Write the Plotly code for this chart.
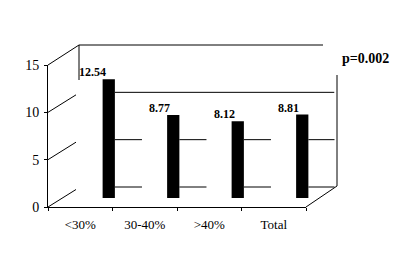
import plotly.graph_objects as go

categories = ["<30%", "30-40%", ">40%", "Total"]
values = [12.54, 8.77, 8.12, 8.81]
value_labels = ["12.54", "8.77", "8.12", "8.81"]
y_ticks = [0, 5, 10, 15]
p_text = "p=0.002"

W, H = 406, 272
def X(px): return px / W
def Y(py): return 1 - py / H

# front plane geometry (pixels)
FX0, FX1 = 40, 298
FY0, FY15 = 199, 57
per = (FY0 - FY15) / 15.0
def fy(v): return FY0 - per * v

# depth offset for bars
BDX = 28.5
BY0 = 190

font = "Liberation Serif"

fig = go.Figure()
# invisible trace to show the front axes
fig.add_trace(go.Scatter(x=categories, y=values, xaxis="x", yaxis="y", mode="markers",
                         marker=dict(opacity=0), hoverinfo="skip"))
fig.add_trace(go.Bar(x=categories, y=values, xaxis="x2", yaxis="y2",
                     width=0.19, marker=dict(color="black", line=dict(width=0)),
                     hoverinfo="skip"))

shapes = []
L = dict(color="black", width=1)
# side wall diagonals
for v in y_ticks:
    if v == 15:
        shapes.append(dict(type="line", xref="paper", yref="paper", x0=X(FX0), y0=Y(fy(v)),
                           x1=X(FX0 + 31), y1=Y(fy(v) - 20), line=L, layer="below"))
    else:
        shapes.append(dict(type="line", xref="paper", yref="paper", x0=X(FX0), y0=Y(fy(v)),
                           x1=X(FX0 + 28), y1=Y(fy(v) - 17.5), line=L, layer="below"))
# floor right diagonal
shapes.append(dict(type="line", xref="paper", yref="paper", x0=X(FX1), y0=Y(FY0),
                   x1=X(FX1 + 31), y1=Y(FY0 - 21), line=L, layer="below"))
# back wall top
shapes.append(dict(type="line", xref="paper", yref="paper", x0=X(FX0 + 31), y0=Y(fy(15) - 20),
                   x1=X(315), y1=Y(fy(15) - 20), line=L, layer="below"))
# back wall left edge (partial)
shapes.append(dict(type="line", xref="paper", yref="paper", x0=X(FX0 + 31), y0=Y(fy(15) - 20),
                   x1=X(FX0 + 31), y1=Y(72), line=L, layer="below"))
# back wall right edge
shapes.append(dict(type="line", xref="paper", yref="paper", x0=X(FX1 + 31), y0=Y(67),
                   x1=X(FX1 + 31), y1=Y(FY0 - 21), line=L, layer="below"))
# back gridline at 10
shapes.append(dict(type="line", xref="x2", yref="paper", x0=0.095, y0=Y(fy(10) - 20),
                   x1=3.5, y1=Y(fy(10) - 20), line=L, layer="below"))
# back gridline segments at 5 and 0
for v in [5, 0]:
    for i in range(len(categories)):
        shapes.append(dict(type="line", xref="x2", yref="paper", x0=i + 0.095, y0=Y(fy(v) - 20),
                           x1=i + 0.515, y1=Y(fy(v) - 20), line=L, layer="below"))

annotations = []
for c, v, t in zip(categories, values, value_labels):
    annotations.append(dict(x=c, y=v, xref="x2", yref="y2", text="<b>" + t + "</b>",
                            showarrow=False, xanchor="right", yanchor="bottom",
                            xshift=-1, yshift=-2,
                            font=dict(family=font, size=12, color="black")))
annotations.append(dict(x=X(357), y=Y(50), xref="paper", yref="paper", text="<b>" + p_text + "</b>",
                        showarrow=False, xanchor="center", yanchor="middle",
                        font=dict(family=font, size=14, color="black")))

fig.update_layout(
    width=W, height=H, margin=dict(l=0, r=0, t=0, b=0, pad=0, autoexpand=False),
    paper_bgcolor="white", plot_bgcolor="rgba(0,0,0,0)",
    showlegend=False, shapes=shapes, annotations=annotations,
    font=dict(family=font, size=13, color="black"),
    xaxis=dict(domain=[X(FX0), X(FX1)], type="category", range=[-0.5, 3.5],
               showline=True, linecolor="black", linewidth=1, ticks="outside",
               ticklen=3, tickcolor="black", tickson="boundaries", showgrid=False,
               zeroline=False, tickfont=dict(family=font, size=13), fixedrange=True,
               automargin=False, ticklabelstandoff=5),
    yaxis=dict(domain=[Y(FY0), Y(FY15)], range=[0, 15], tickvals=y_ticks,
               showline=True, linecolor="black", linewidth=1, ticks="outside",
               ticklen=3, tickcolor="black", showgrid=False, zeroline=False,
               tickfont=dict(family=font, size=14), fixedrange=True, automargin=False,
               ticklabelstandoff=2),
    xaxis2=dict(domain=[X(FX0 + BDX), X(FX1 + BDX)], type="category", range=[-0.5, 3.5],
                anchor="y2", visible=False, showgrid=False, zeroline=False, automargin=False),
    yaxis2=dict(domain=[Y(BY0), Y(BY0 - per * 15)], range=[0, 15], anchor="x2",
                visible=False, showgrid=False, zeroline=False, automargin=False),
)

fig.write_html("out.html")
